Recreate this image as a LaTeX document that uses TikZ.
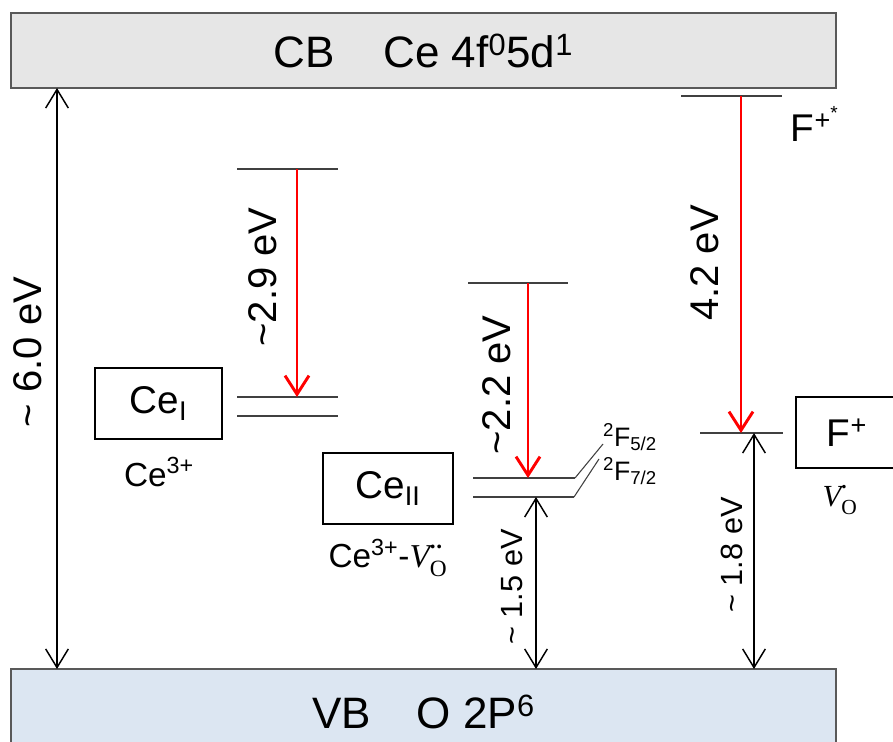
\documentclass[tikz,border=0pt]{standalone}
\usepackage{amsmath}
\usepackage{fontspec}
\setmainfont{Liberation Sans}
\newfontfamily\serifnum{Liberation Serif}
\usetikzlibrary{arrows.meta}
\definecolor{levelgray}{HTML}{404040}
\definecolor{bordergray}{HTML}{595959}
\definecolor{cbfill}{HTML}{E6E6E6}
\definecolor{vbfill}{HTML}{DCE6F2}
\newcommand\fsz[1]{\fontsize{#1}{#1}\selectfont}
\newcommand\vacancy[1]{\mbox{\serifnum\itshape V}$^{\text{\raisebox{0.55ex}{\serifnum\bfseries #1}}}_{\text{\serifnum O}}$}
\begin{document}
\begin{tikzpicture}[x=0.75pt,y=-0.75pt,
  band/.style={draw=bordergray,line width=1.8pt,inner sep=0pt,minimum width=618.75pt,font=\fsz{33}},
  statebox/.style={draw=black,line width=1.5pt,minimum height=53.25pt,inner sep=0pt,font=\fsz{29}},
  level/.style={draw=levelgray,line width=1.8pt},
  termline/.style={draw=levelgray,line width=0.8pt},
  emis/.style={draw=red,line width=2.2pt,-{Straight Barb[length=14pt,width=18pt]}},
  gap/.style={draw=black,line width=1.1pt,{Straight Barb[length=14pt,width=17pt]}-{Straight Barb[length=14pt,width=17pt]}},
  biglab/.style={font=\fsz{30},rotate=90,inner sep=0pt},
  smalllab/.style={font=\fsz{23},rotate=90,inner sep=0pt},
  sitelab/.style={font=\fsz{25},inner sep=0pt},
  termlab/.style={font=\fsz{20},inner sep=0pt}]
\useasboundingbox (0,0) rectangle (893,742);
\clip (0,0) rectangle (893,742);

% bands
\node[band,fill=cbfill,minimum height=56.25pt] (cb) at (423.5,50.5) {CB\hspace{1.1em}Ce 4f\textsuperscript{0}5d\textsuperscript{1}};
\node[band,fill=vbfill,minimum height=64.5pt] (vb) at (423.5,712) {VB\hspace{1.05em}O 2P\textsuperscript{6}};

% state boxes
\node[statebox,minimum width=95.25pt] (ce1) at (158.5,403.5) {Ce\textsubscript{I}};
\node[statebox,minimum width=97.5pt] (ce2) at (388,488.5) {Ce\textsubscript{II}};
\node[statebox,minimum width=76.5pt] (fp) at (847,432.5) {F\textsuperscript{+}};

\node[sitelab] (ce1site) at (159,472) {Ce\textsuperscript{3+}};
\node[sitelab] (ce2site) at (388,558) {Ce\textsuperscript{3+}-\vacancy{.\kern0.4pt.}};
\node[font=\fsz{23},inner sep=0pt] (fsite) at (840,500) {\vacancy{.}};

% Ce_I levels
\coordinate (c1eL) at (237,169); \coordinate (c1eR) at (338,169);
\coordinate (c1aL) at (237,397); \coordinate (c1aR) at (338,397);
\coordinate (c1bL) at (237,416); \coordinate (c1bR) at (338,416);
\draw[level] (c1eL) -- (c1eR);
\draw[level] (c1aL) -- (c1aR);
\draw[level] (c1bL) -- (c1bR);

% Ce_II levels
\coordinate (c2eL) at (468,283); \coordinate (c2eR) at (568,283);
\coordinate (c2aL) at (473,478); \coordinate (c2aR) at (575,478); \coordinate (c2aT) at (603,444);
\coordinate (c2bL) at (473,497); \coordinate (c2bR) at (574,497); \coordinate (c2bT) at (599,459);
\draw[level] (c2eL) -- (c2eR);
\draw[level] (c2aL) -- (c2aR);
\draw[level] (c2bL) -- (c2bR);
\draw[termline] (c2aR) -- (c2aT);
\draw[termline] (c2bR) -- (c2bT);
\node[termlab] (f52) at (630,437) {\textsuperscript{2}F\textsubscript{5/2}};
\node[termlab] (f72) at (630,471) {\textsuperscript{2}F\textsubscript{7/2}};

% F+ levels
\coordinate (feL) at (681,96); \coordinate (feR) at (782,96);
\coordinate (fgL) at (700,433); \coordinate (fgR) at (783,433);
\draw[level] (feL) -- (feR);
\draw[level] (fgL) -- (fgR);
\node[font=\fsz{29},inner sep=0pt] (fstar) at (815,124) {F\textsuperscript{+\textsuperscript{*}}};

% emission arrows
\coordinate (r1t) at (297,169); \coordinate (r1b) at (297,397);
\coordinate (r2t) at (528,283); \coordinate (r2b) at (528,478);
\coordinate (r3t) at (741,96);  \coordinate (r3b) at (741,433);
\draw[emis] (r1t) -- (r1b);
\draw[emis] (r2t) -- (r2b);
\draw[emis] (r3t) -- (r3b);

% gap arrows
\coordinate (g1t) at (57,88);  \coordinate (g1b) at (57,669);
\coordinate (g2t) at (536,497); \coordinate (g2b) at (536,669);
\coordinate (g3t) at (754,433); \coordinate (g3b) at (754,669);
\draw[gap] (g1t) -- (g1b);
\draw[gap] (g2t) -- (g2b);
\draw[gap] (g3t) -- (g3b);

% energy labels
\node[biglab] (l60) at (28,352) {\textasciitilde{} 6.0 eV};
\node[biglab] (l29) at (263,277) {\textasciitilde2.9 eV};
\node[biglab] (l22) at (497,385) {\textasciitilde2.2 eV};
\node[biglab] (l42) at (705,263) {4.2 eV};
\node[smalllab] (l15) at (512,587) {\textasciitilde{} 1.5 eV};
\node[smalllab] (l18) at (732,555) {\textasciitilde{} 1.8 eV};
\end{tikzpicture}
\end{document}
